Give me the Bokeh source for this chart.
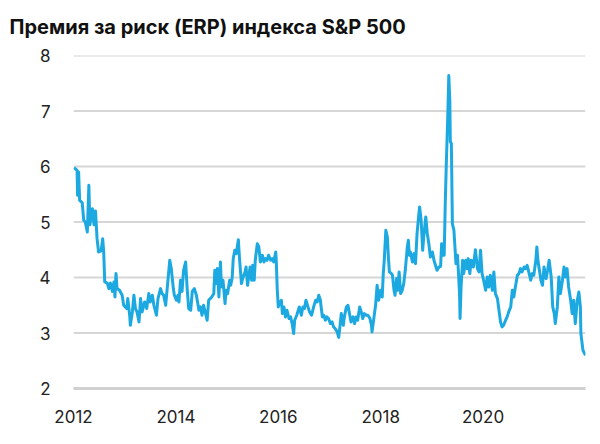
from bokeh.plotting import figure
from bokeh.models import FixedTicker, Range1d
from bokeh.embed import file_html
from bokeh.resources import INLINE

title_text = "Премия за риск (ERP) индекса S&P 500"
y_ticks = [2, 3, 4, 5, 6, 7, 8]
x_ticks = [2012, 2014, 2016, 2018, 2020]
x_tick_labels = ["2012", "2014", "2016", "2018", "2020"]
x_start, x_end = 2012, 2022

years = [
    2012.01, 2012.07, 2012.08, 2012.10, 2012.12, 2012.17, 2012.20, 2012.23, 2012.27, 2012.30,
    2012.32, 2012.37, 2012.40, 2012.43, 2012.46, 2012.49, 2012.54, 2012.57, 2012.59, 2012.61,
    2012.66, 2012.69, 2012.72, 2012.76, 2012.79, 2012.81, 2012.83, 2012.85, 2012.90, 2012.95,
    2012.98, 2013.04, 2013.06, 2013.10, 2013.11, 2013.15, 2013.18, 2013.21, 2013.24, 2013.28,
    2013.31, 2013.34, 2013.39, 2013.43, 2013.47, 2013.50, 2013.54, 2013.57, 2013.62, 2013.65,
    2013.70, 2013.73, 2013.76, 2013.80, 2013.83, 2013.88, 2013.91, 2013.95, 2013.97, 2014.01,
    2014.04, 2014.06, 2014.09, 2014.12, 2014.15, 2014.19, 2014.22, 2014.25, 2014.29, 2014.32,
    2014.36, 2014.40, 2014.45, 2014.48, 2014.51, 2014.54, 2014.58, 2014.61, 2014.64, 2014.70,
    2014.74, 2014.76, 2014.79, 2014.81, 2014.84, 2014.87, 2014.89, 2014.92, 2014.96, 2014.98,
    2015.01, 2015.05, 2015.07, 2015.10, 2015.12, 2015.15, 2015.18, 2015.22, 2015.24, 2015.28,
    2015.31, 2015.35, 2015.37, 2015.40, 2015.42, 2015.45, 2015.48, 2015.50, 2015.53, 2015.55,
    2015.59, 2015.62, 2015.65, 2015.69, 2015.72, 2015.75, 2015.78, 2015.81, 2015.85, 2015.88,
    2015.91, 2015.95, 2015.96, 2015.98, 2016.00, 2016.02, 2016.06, 2016.08, 2016.11, 2016.14,
    2016.17, 2016.21, 2016.24, 2016.27, 2016.30, 2016.32, 2016.36, 2016.39, 2016.41, 2016.45,
    2016.48, 2016.51, 2016.54, 2016.58, 2016.61, 2016.65, 2016.69, 2016.73, 2016.76, 2016.79,
    2016.82, 2016.86, 2016.89, 2016.92, 2016.95, 2016.98, 2017.02, 2017.05, 2017.08, 2017.11,
    2017.15, 2017.18, 2017.21, 2017.23, 2017.27, 2017.29, 2017.33, 2017.36, 2017.39, 2017.42,
    2017.46, 2017.49, 2017.52, 2017.55, 2017.59, 2017.62, 2017.65, 2017.68, 2017.72, 2017.75,
    2017.79, 2017.82, 2017.83, 2017.87, 2017.90, 2017.93, 2017.96, 2018.00, 2018.03, 2018.05,
    2018.07, 2018.10, 2018.13, 2018.15, 2018.17, 2018.21, 2018.23, 2018.26, 2018.28, 2018.31,
    2018.33, 2018.36, 2018.39, 2018.42, 2018.45, 2018.48, 2018.52, 2018.54, 2018.56, 2018.58,
    2018.62, 2018.65, 2018.68, 2018.71, 2018.74, 2018.76, 2018.79, 2018.82, 2018.84, 2018.88,
    2018.91, 2018.94, 2018.97, 2019.01, 2019.04, 2019.07, 2019.10, 2019.14, 2019.17, 2019.19,
    2019.21, 2019.24, 2019.26, 2019.28, 2019.31, 2019.33, 2019.35, 2019.36, 2019.38, 2019.40,
    2019.43, 2019.45, 2019.47, 2019.50, 2019.52, 2019.54, 2019.55, 2019.57, 2019.60, 2019.62,
    2019.66, 2019.69, 2019.71, 2019.74, 2019.77, 2019.81, 2019.85, 2019.89, 2019.92, 2019.95,
    2019.98, 2020.01, 2020.05, 2020.08, 2020.11, 2020.14, 2020.18, 2020.21, 2020.24, 2020.28,
    2020.31, 2020.34, 2020.37, 2020.40, 2020.44, 2020.47, 2020.50, 2020.54, 2020.57, 2020.60,
    2020.63, 2020.67, 2020.70, 2020.73, 2020.76, 2020.80, 2020.83, 2020.86, 2020.90, 2020.93,
    2020.96, 2020.99, 2021.03, 2021.05, 2021.07, 2021.10, 2021.13, 2021.16, 2021.19, 2021.23,
    2021.26, 2021.29, 2021.33, 2021.36, 2021.39, 2021.41, 2021.45, 2021.48, 2021.51, 2021.55,
    2021.58, 2021.61, 2021.64, 2021.67, 2021.71, 2021.74, 2021.77, 2021.80, 2021.84, 2021.87,
    2021.90, 2021.91, 2021.95, 2022.00,
]

erp = [
    5.98, 5.93, 5.48, 5.90, 5.39, 5.35, 5.03, 5.00, 4.82, 5.66,
    4.95, 5.24, 4.95, 5.20, 4.70, 4.46, 4.48, 4.70, 4.46, 3.92,
    3.90, 3.80, 3.90, 3.75, 3.92, 3.65, 4.07, 3.80, 3.77, 3.68,
    3.50, 3.44, 3.62, 3.29, 3.14, 3.38, 3.68, 3.44, 3.38, 3.20,
    3.62, 3.38, 3.56, 3.44, 3.71, 3.56, 3.68, 3.50, 3.32, 3.62,
    3.80, 3.71, 3.68, 3.50, 3.80, 4.31, 4.16, 3.80, 3.68, 3.59,
    3.68, 3.56, 3.95, 3.75, 4.13, 4.28, 3.80, 3.44, 3.41, 3.75,
    3.80, 3.68, 3.41, 3.47, 3.32, 3.50, 3.35, 3.23, 3.59, 3.65,
    3.71, 4.13, 3.89, 4.16, 3.65, 4.28, 3.83, 3.95, 3.53, 3.77,
    3.71, 3.95, 3.86, 4.00, 4.34, 4.49, 4.43, 4.68, 4.37, 3.89,
    4.00, 4.10, 4.19, 3.86, 4.00, 4.19, 3.95, 4.22, 3.95, 4.31,
    4.61, 4.55, 4.28, 4.40, 4.28, 4.34, 4.31, 4.40, 4.31, 4.34,
    4.28, 4.46, 4.31, 3.77, 3.47, 3.53, 3.59, 3.35, 3.47, 3.29,
    3.41, 3.26, 3.29, 3.17, 2.99, 3.23, 3.32, 3.41, 3.47, 3.32,
    3.47, 3.44, 3.59, 3.47, 3.38, 3.32, 3.47, 3.59, 3.56, 3.68,
    3.60, 3.29, 3.32, 3.23, 3.29, 3.26, 3.17, 3.20, 3.11, 3.08,
    3.02, 2.92, 3.17, 3.35, 3.14, 3.29, 3.47, 3.50, 3.35, 3.20,
    3.29, 3.17, 3.29, 3.23, 3.47, 3.38, 3.26, 3.35, 3.32, 3.32,
    3.26, 3.14, 3.02, 3.29, 3.50, 3.86, 3.59, 3.77, 3.65, 4.07,
    4.31, 4.85, 4.73, 4.37, 4.10, 4.07, 4.04, 3.77, 3.68, 3.98,
    3.77, 4.10, 3.71, 3.77, 3.89, 4.13, 4.55, 4.67, 4.40, 4.46,
    4.28, 4.43, 4.25, 4.79, 5.09, 5.27, 5.03, 4.49, 4.73, 5.09,
    4.79, 4.61, 4.37, 4.46, 4.31, 4.22, 4.13, 4.19, 4.20, 4.61,
    4.40, 4.40, 5.30, 6.00, 6.90, 7.64, 7.19, 6.45, 6.41, 4.97,
    4.85, 4.55, 4.25, 4.40, 4.07, 3.71, 3.26, 3.83, 4.31, 4.07,
    4.31, 4.16, 4.34, 4.07, 4.31, 4.19, 4.50, 4.16, 4.10, 4.49,
    4.07, 3.95, 3.77, 4.01, 3.83, 4.04, 3.77, 4.10, 3.71, 3.62,
    3.41, 3.20, 3.11, 3.14, 3.23, 3.29, 3.38, 3.47, 3.77, 3.65,
    3.83, 4.04, 4.07, 4.16, 4.10, 4.19, 4.16, 4.22, 4.07, 3.95,
    4.07, 4.04, 4.31, 4.55, 4.31, 4.13, 3.95, 3.86, 4.19, 3.98,
    4.13, 4.31, 4.01, 3.47, 3.35, 3.17, 3.47, 4.01, 3.71, 3.95,
    4.19, 4.01, 4.16, 3.83, 3.59, 3.35, 3.59, 3.17, 3.59, 3.74,
    3.47, 2.99, 2.69, 2.60,
]

p = figure(
    width=600, height=444,
    output_backend="svg", toolbar_location=None,
    x_range=Range1d(x_start, x_end), y_range=Range1d(2, 8),
    min_border_left=73, min_border_right=15,
    min_border_top=55, min_border_bottom=56,
)
p.outline_line_color = None
p.background_fill_color = None
p.border_fill_color = None

p.title.text = title_text
p.title.text_font = "Inter"
p.title.text_font_size = "20px"
p.title.text_font_style = "bold"
p.title.text_color = "#111111"
p.title.align = "left"
p.title.vertical_align = "top"
p.title.offset = -64
p.title.standoff = 29

# horizontal gridlines drawn as glyphs at the y tick values
p.segment(x0=[x_start] * len(y_ticks), x1=[x_end] * len(y_ticks),
          y0=y_ticks, y1=y_ticks, line_color="#d6d6d6", line_width=2)

p.line(years, erp, line_color="#1ca9e1", line_width=3, line_join="round")

p.yaxis.ticker = FixedTicker(ticks=y_ticks)
p.yaxis.axis_line_color = None
p.yaxis.major_tick_line_color = None
p.yaxis.minor_tick_line_color = None
p.yaxis.major_label_text_font = "Inter"
p.yaxis.major_label_text_font_size = "17px"
p.yaxis.major_label_text_color = "#222222"
p.yaxis.major_label_standoff = 17

p.xaxis.ticker = FixedTicker(ticks=x_ticks)
p.xaxis.major_label_overrides = {t: s for t, s in zip(x_ticks, x_tick_labels)}
p.xaxis.axis_line_color = "#d0d0d0"
p.xaxis.axis_line_width = 3
p.xaxis.major_tick_line_color = None
p.xaxis.minor_tick_line_color = None
p.xaxis.major_label_text_font = "Inter"
p.xaxis.major_label_text_font_size = "17px"
p.xaxis.major_label_text_color = "#222222"
p.xaxis.major_label_standoff = 15

p.xgrid.grid_line_color = None
p.ygrid.grid_line_color = None

open("out.html", "w").write(file_html(p, INLINE))
